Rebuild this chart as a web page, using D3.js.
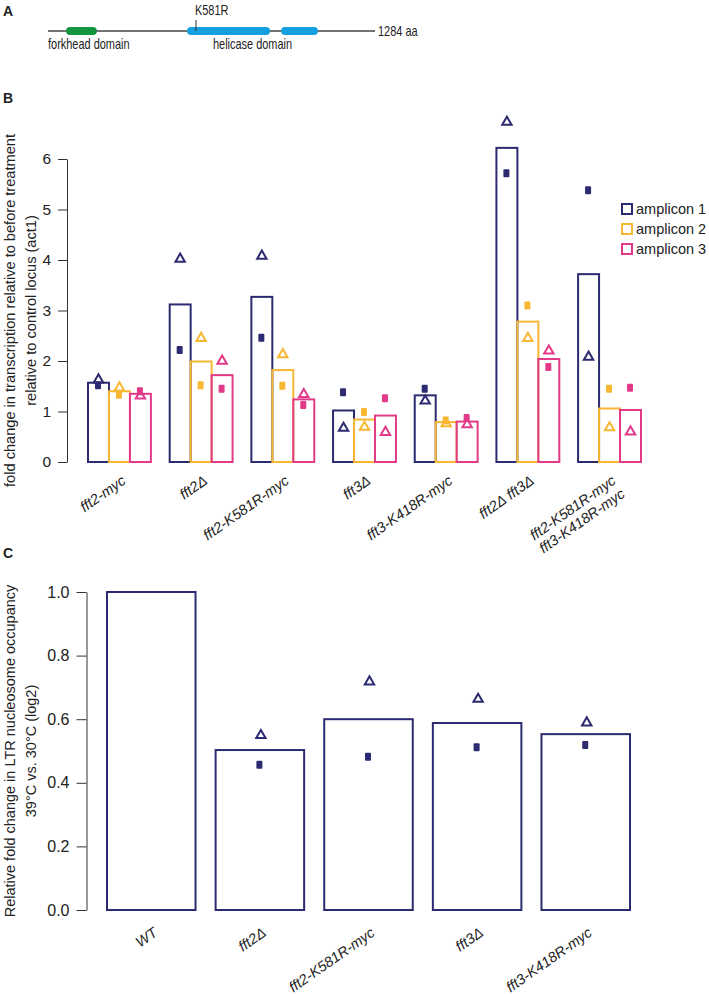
<!DOCTYPE html>
<html><head><meta charset="utf-8">
<script src="https://cdn.jsdelivr.net/npm/d3@7"></script>
<style>
html,body{margin:0;padding:0;background:#fff;}
text{font-family:"Liberation Sans",Arial,Helvetica,sans-serif;fill:#222;}
</style></head>
<body>
<svg id="fig" width="709" height="994"></svg>
<script>
// ---------- Panel A data ----------
const proteinLength = 1284;
const domainNames = ["forkhead domain", "helicase domain", "helicase domain"];
const domainStart = [71, 546, 915];
const domainEnd = [192, 872, 1060];
const mutationPos = 581;
const mutationLabel = "K581R";

// ---------- Panel B data ----------
const categoriesB = ["fft2-myc", "fft2Δ", "fft2-K581R-myc", "fft3Δ", "fft3-K418R-myc", "fft2Δ fft3Δ", "fft2-K581R-myc\nfft3-K418R-myc"];
const seriesB = ["amplicon 1", "amplicon 2", "amplicon 3"];
const amp1Mean = [1.57, 3.12, 3.27, 1.02, 1.32, 6.22, 3.72];
const amp2Mean = [1.40, 1.99, 1.82, 0.84, 0.79, 2.78, 1.06];
const amp3Mean = [1.35, 1.72, 1.24, 0.92, 0.80, 2.04, 1.03];
const amp1Tri = [1.63, 4.02, 4.08, 0.67, 1.21, 6.73, 2.08];
const amp1Sq = [1.52, 2.22, 2.46, 1.38, 1.45, 5.72, 5.38];
const amp2Tri = [1.47, 2.45, 2.13, 0.69, 0.76, 2.45, 0.68];
const amp2Sq = [1.33, 1.52, 1.51, 0.99, 0.82, 3.10, 1.45];
const amp3Tri = [1.31, 2.00, 1.34, 0.59, 0.74, 2.20, 0.60];
const amp3Sq = [1.40, 1.45, 1.13, 1.26, 0.87, 1.88, 1.47];
const ticksB = [0, 1, 2, 3, 4, 5, 6];

// ---------- Panel C data ----------
const categoriesC = ["WT", "fft2Δ", "fft2-K581R-myc", "fft3Δ", "fft3-K418R-myc"];
const meanC = [1.0, 0.503, 0.600, 0.588, 0.553];
const triC = [null, 0.549, 0.718, 0.663, 0.589];
const sqC = [null, 0.457, 0.482, 0.512, 0.519];
const ticksC = [0.0, 0.2, 0.4, 0.6, 0.8, 1.0];

const navy = "#2c2a70", yellow = "#f7b733", pink = "#e23a88";
const seriesColors = [navy, yellow, pink];
const axisColor = "#333";

const svg = d3.select("#fig");

// ---------- Panel A ----------
const gA = svg.append("g");
gA.append("text").attr("x", 3).attr("y", 16).attr("font-size", 14).attr("font-weight", "bold").text("A");
const xA = d3.scaleLinear().domain([0, proteinLength]).range([48, 375]);
gA.append("line").attr("x1", xA(0)).attr("x2", xA(proteinLength)).attr("y1", 31).attr("y2", 31)
  .attr("stroke", "#444").attr("stroke-width", 1.3);
const domColors = ["#12953f", "#14a0e0", "#14a0e0"];
domainStart.forEach((s, i) => {
  gA.append("rect").attr("x", xA(s)).attr("y", 27).attr("width", xA(domainEnd[i]) - xA(s)).attr("height", 8)
    .attr("rx", 4).attr("fill", domColors[i]);
});
gA.append("line").attr("x1", xA(mutationPos)).attr("x2", xA(mutationPos)).attr("y1", 20).attr("y2", 31)
  .attr("stroke", "#333").attr("stroke-width", 1);
function condText(x, y, str, anchor) {
  return gA.append("text").attr("transform", `translate(${x},${y}) scale(0.73,1)`)
    .attr("font-size", 15).attr("text-anchor", anchor || "start").text(str);
}
condText(xA(mutationPos) - 1, 15, mutationLabel);
condText(xA(proteinLength) + 3, 36, proteinLength + " aa");
condText(xA(0), 49, domainNames[0]);
condText((xA(domainStart[1]) + xA(domainEnd[2])) / 2, 49, domainNames[1], "middle");

// ---------- Panel B ----------
const gB = svg.append("g");
gB.append("text").attr("x", 3).attr("y", 103).attr("font-size", 14).attr("font-weight", "bold").text("B");
const yB = d3.scaleLinear().domain([0, 6]).range([462, 159]);
const xB = d3.scaleBand().domain(categoriesB).range([88, 641]).paddingInner(0.23).paddingOuter(0);
const xBin = d3.scaleBand().domain(seriesB).range([0, xB.bandwidth()]);

const axB = gB.append("g").attr("transform", "translate(67,0)")
  .call(d3.axisLeft(yB).tickValues(ticksB).tickFormat(d3.format("d")).tickSize(9).tickPadding(7).tickSizeOuter(0));
axB.selectAll("text").attr("font-size", 15.5).attr("fill", "#222").style("font-family", '"Liberation Sans",Arial,sans-serif');
axB.selectAll("line,path").attr("stroke", axisColor);

const yTitleB = gB.append("text").attr("transform", `translate(0,${(yB(0) + yB(6)) / 2}) rotate(-90)`)
  .attr("text-anchor", "middle").attr("font-size", 14.6);
yTitleB.append("tspan").attr("x", 0).attr("y", 15).text("fold change in transcription relative to before treatment");
yTitleB.append("tspan").attr("x", 0).attr("y", 36).text("relative to control locus (act1)");

const means = [amp1Mean, amp2Mean, amp3Mean];
const tris = [amp1Tri, amp2Tri, amp3Tri];
const sqs = [amp1Sq, amp2Sq, amp3Sq];

const triSym = d3.symbol().type(d3.symbolTriangle).size(38);

categoriesB.forEach((cat, ci) => {
  seriesB.forEach((s, si) => {
    const x0 = xB(cat) + xBin(s), w = xBin.bandwidth();
    gB.append("rect").attr("x", x0).attr("y", yB(means[si][ci])).attr("width", w)
      .attr("height", yB(0) - yB(means[si][ci])).attr("fill", "none")
      .attr("stroke", seriesColors[si]).attr("stroke-width", 2);
  });
});
categoriesB.forEach((cat, ci) => {
  seriesB.forEach((s, si) => {
    const cx = xB(cat) + xBin(s) + xBin.bandwidth() / 2;
    gB.append("path").attr("d", triSym).attr("transform", `translate(${cx},${yB(tris[si][ci])})`)
      .attr("fill", "#fff").attr("stroke", seriesColors[si]).attr("stroke-width", 2);
    gB.append("rect").attr("x", cx - 3.5).attr("y", yB(sqs[si][ci]) - 4).attr("width", 6).attr("height", 8)
      .attr("rx", 1).attr("fill", seriesColors[si]);
  });
  const gx = xB(cat) + xB.bandwidth() / 2 + 1;
  const lbl = gB.append("text").attr("transform", `translate(${gx},474) rotate(-35)`)
    .attr("text-anchor", "end").attr("font-size", 14.5).attr("font-style", "italic");
  cat.split("\n").forEach((line, li) => {
    lbl.append("tspan").attr("x", 0).attr("dy", li === 0 ? "0.75em" : "1.1em").text(line);
  });
});

// legend
const legB = gB.append("g").attr("transform", "translate(621,0)");
seriesB.forEach((s, i) => {
  const ly = 209 + i * 20;
  legB.append("rect").attr("x", 1).attr("y", ly - 5).attr("width", 10).attr("height", 10)
    .attr("fill", "none").attr("stroke", seriesColors[i]).attr("stroke-width", 2);
  legB.append("text").attr("x", 15).attr("y", ly + 5).attr("font-size", 14.5).text(s);
});

// ---------- Panel C ----------
const gC = svg.append("g");
gC.append("text").attr("x", 3).attr("y", 558).attr("font-size", 14).attr("font-weight", "bold").text("C");
const yC = d3.scaleLinear().domain([0, 1]).range([910, 592]);
const xC = d3.scaleBand().domain(categoriesC).range([107, 630]).paddingInner(0.185).paddingOuter(0);

const axC = gC.append("g").attr("transform", "translate(86.5,0)")
  .call(d3.axisLeft(yC).tickValues(ticksC).tickFormat(d3.format(".1f")).tickSize(10).tickPadding(7).tickSizeOuter(0));
axC.selectAll("text").attr("font-size", 16).attr("fill", "#222").style("font-family", '"Liberation Sans",Arial,sans-serif');
axC.selectAll("line,path").attr("stroke", axisColor);

const yTitleC = gC.append("text").attr("transform", `translate(0,${(yC(0) + yC(1)) / 2}) rotate(-90)`)
  .attr("text-anchor", "middle").attr("font-size", 14.5);
yTitleC.append("tspan").attr("x", 0).attr("y", 15).text("Relative fold change in LTR nucleosome occupancy");
yTitleC.append("tspan").attr("x", 0).attr("y", 36).text("39°C  vs. 30°C (log2)");

categoriesC.forEach((cat, ci) => {
  gC.append("rect").attr("x", xC(cat)).attr("y", yC(meanC[ci])).attr("width", xC.bandwidth())
    .attr("height", yC(0) - yC(meanC[ci])).attr("fill", "none").attr("stroke", navy).attr("stroke-width", 2);
  const cx = xC(cat) + xC.bandwidth() / 2;
  if (triC[ci] !== null) {
    gC.append("path").attr("d", triSym).attr("transform", `translate(${cx + 1},${yC(triC[ci])})`)
      .attr("fill", "#fff").attr("stroke", navy).attr("stroke-width", 2);
  }
  if (sqC[ci] !== null) {
    gC.append("rect").attr("x", cx - 3.5).attr("y", yC(sqC[ci]) - 4).attr("width", 6).attr("height", 8)
      .attr("rx", 1).attr("fill", navy);
  }
  gC.append("text").attr("transform", `translate(${cx + 1},926) rotate(-35)`)
    .attr("text-anchor", "end").attr("font-size", 14.5).attr("font-style", "italic")
    .attr("dy", "0.75em").text(cat);
});
</script>
</body></html>
